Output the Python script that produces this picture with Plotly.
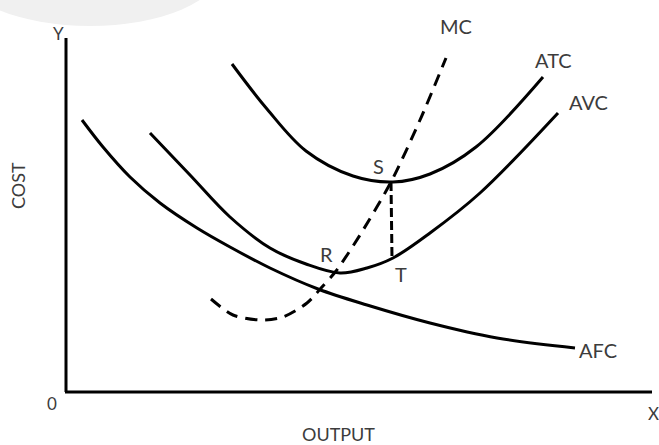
import plotly.graph_objects as go

# Values: output (x) and cost (y) in picture units, origin at "0"
atc_x = [166, 201, 240, 287, 327, 364, 410, 477]
atc_y = [328, 283, 241, 216, 210, 218, 245, 315]

avc_x = [84, 124, 164, 204, 240, 274, 301, 327, 364, 414, 492]
avc_y = [259, 217, 175, 144, 128, 119, 124, 134, 159, 199, 279]

afc_x = [16, 37, 64, 94, 131, 164, 204, 252, 301, 364, 431, 509]
afc_y = [272, 245, 215, 189, 164, 145, 124, 103, 87, 69, 54, 44]

mc_x = [145, 167, 194, 217, 241, 256, 270, 294, 325, 354, 380]
mc_y = [93, 77, 72, 75, 89, 105, 121, 157, 210, 272, 334]

st_x = [325, 326]
st_y = [210, 134]

axis_x_end = 586
axis_y_end = 354

labels = ["MC", "ATC", "AVC", "AFC", "S", "R", "T"]
label_x = [390, 487, 522, 532, 312, 260, 335]
label_y = [366, 332, 290, 42, 226, 138, 118]

FONT = "Lato"
TXT = "#3c3c3c"

fig = go.Figure()

for xs, ys in [(atc_x, atc_y), (avc_x, avc_y), (afc_x, afc_y)]:
    fig.add_trace(go.Scatter(x=xs, y=ys, mode="lines",
                             line=dict(color="black", width=3, shape="spline", smoothing=1.0),
                             hoverinfo="skip", showlegend=False))

fig.add_trace(go.Scatter(x=mc_x, y=mc_y, mode="lines",
                         line=dict(color="black", width=3, shape="spline", smoothing=0.8, dash="12px,8px"),
                         hoverinfo="skip", showlegend=False))
fig.add_trace(go.Scatter(x=st_x, y=st_y, mode="lines",
                         line=dict(color="black", width=3, dash="9px,4px"),
                         hoverinfo="skip", showlegend=False))

# axes
fig.add_shape(type="line", x0=0, y0=0, x1=0, y1=axis_y_end, line=dict(color="black", width=3))
fig.add_shape(type="line", x0=-1, y0=0, x1=axis_x_end, y1=0, line=dict(color="black", width=3))

# light gray blob at top-left
fig.add_shape(type="circle", x0=-106, x1=154, y0=366, y1=478, fillcolor="#f0f0f0",
              line=dict(width=0), layer="below")

for t, x, y in zip(labels, label_x, label_y):
    fig.add_annotation(x=x, y=y, text=t, showarrow=False,
                       font=dict(family=FONT, size=20, color=TXT))

fig.add_annotation(x=-8, y=359, text="Y", showarrow=False, font=dict(family=FONT, size=17, color=TXT))
fig.add_annotation(x=-14, y=-11, text="0", showarrow=False, font=dict(family=FONT, size=17, color=TXT))
fig.add_annotation(x=587, y=-21, text="X", showarrow=False, font=dict(family=FONT, size=17, color=TXT))
fig.add_annotation(x=272, y=-42, text="OUTPUT", showarrow=False, font=dict(family=FONT, size=18, color=TXT))
fig.add_annotation(x=-48, y=206, text="COST", showarrow=False, textangle=-90,
                   font=dict(family=FONT, size=18, color=TXT))

fig.update_layout(
    width=659, height=445,
    margin=dict(l=0, r=0, t=0, b=0),
    paper_bgcolor="white", plot_bgcolor="white",
    xaxis=dict(range=[-66, 593], visible=False, fixedrange=True),
    yaxis=dict(range=[-53, 392], visible=False, fixedrange=True),
)

fig.write_html("out.html", config={"displayModeBar": False},
               post_script="document.body.style.margin='0';document.body.style.overflow='hidden';")
